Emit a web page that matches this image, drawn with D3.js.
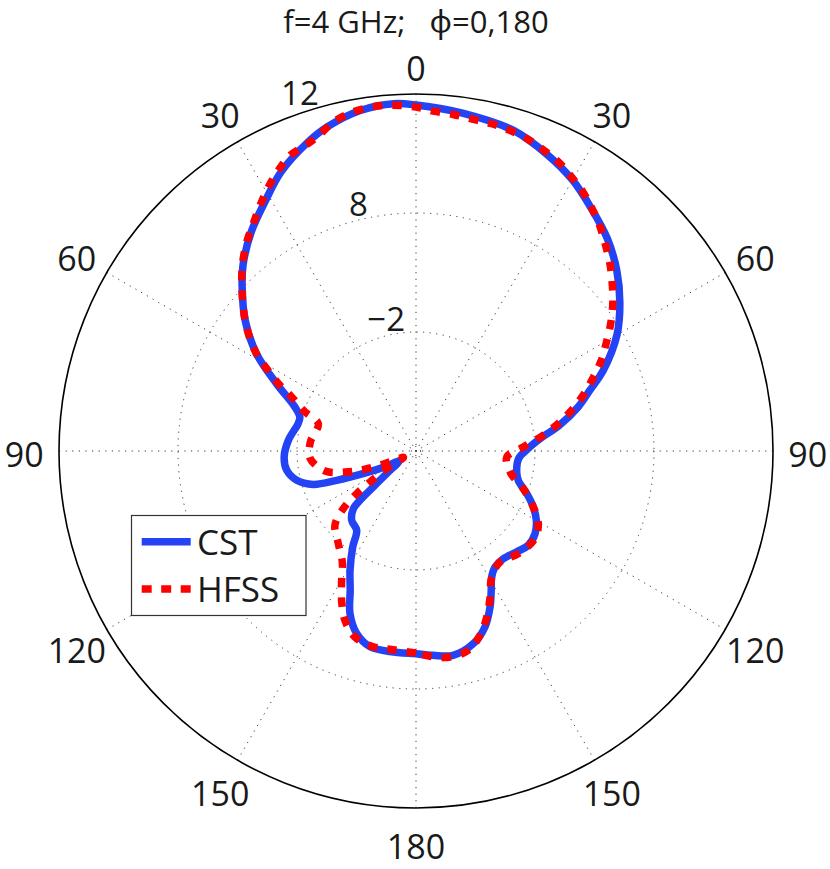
<!DOCTYPE html>
<html><head><meta charset="utf-8">
<script src="https://cdn.jsdelivr.net/npm/d3@7"></script>
<style>
body{margin:0;background:#fff}
text{font-family:"Open Sans","Noto Sans",sans-serif;fill:#1a1a1a}
</style>
</head><body><svg id="chart" width="830" height="869"></svg>
<script>
// ---------------- data ----------------
const titleText = "f=4 GHz;   \u03D5=0,180";
const angleTicks = [0, 30, 60, 90, 120, 150, 180, -150, -120, -90, -60, -30];
const angleTickLabels = ["0", "30", "60", "90", "120", "150", "180", "150", "120", "90", "60", "30"];
const ringValues = [-2, 8, 12];
const ringLabels = ["\u22122", "8", "12"];
const seriesNames = ["CST", "HFSS"];

const cstTheta = [-180,-173.6,-166.8,-162,-157.9,-154.7,-151,-146.6,-143.2,-137.1,-132.6,-131.4,-130.1,-127.6,-121,-117,-113.7,-110.3,-108,-103.8,-98.5,-92.6,-85.2,-76.9,-73.7,-70,-64.2,-58.6,-52.6,-46.7,-42.9,-37,-31,-25.8,-19.4,-15.4,-9.3,-3.7,0,8,17,24,30,36,42,48,54,60,66.7,70.8,74.8,80,84,88.8,94,100.8,106,111,115.5,120,124.8,130,135,141,145.7,149,152,154.6,158.6,163.4,169.7,175.2,180];
const cstGain = [5.03,5.0,4.9,4.13,2.75,0.94,-0.57,-2.34,-3.68,-4.06,-4.86,-5.7,-7.29,-8.89,-10.32,-9.06,-7.46,-4.9,-2.92,-1.68,-1.02,-0.91,-1.24,-1.83,-1.83,-1.16,1.03,3.71,6.07,8.03,8.54,9.21,9.82,10.42,10.99,11.29,11.6,11.7,11.63,11.46,11.26,10.89,10.52,10.05,9.61,9.08,8.47,7.5,5.14,3.46,2.12,0.18,-1.41,-2.59,-3.34,-3.39,-3.06,-2.03,-1.08,-0.32,0.18,0.32,-0.02,-0.35,-0.21,0.35,1.45,2.51,3.88,4.89,5.45,5.23,5.03];

const hfssTheta = [-180,-173,-167.2,-161.8,-157.2,-153.8,-150.4,-146.4,-140,-132.5,-128.4,-125.7,-124,-121,-117,-112,-109.4,-106.5,-102.4,-94.1,-85.1,-74.3,-70.6,-66.5,-63.9,-61.1,-59.2,-55.9,-52.3,-49,-45.6,-42.5,-39,-35.6,-32.4,-29.2,-26.1,-23.1,-20,-17.5,-14.1,-10.8,-7.3,-4,0,2.9,6.3,9.8,13,16.3,19.8,22.9,26.3,29.6,32.9,36.1,39.4,42.5,46.2,49.8,53.2,56.8,60.2,64.1,67.7,71.7,75.6,79.5,83.3,87.9,93.8,103,109.3,115.5,120.7,126.4,135.1,142.9,149,153.4,156.9,160.8,165.3,170.6,176.1,180];
const hfssGain = [4.97,4.81,4.83,4.45,3.43,2.14,0.66,-0.81,-1.84,-2.76,-4.2,-5.87,-7.38,-9.06,-10.82,-9.06,-7.29,-5.78,-4.18,-3.09,-3.09,-3.47,-2.11,-0.61,0.88,2.33,3.43,4.85,6.18,7.3,8.2,8.62,9.04,9.4,9.78,10.17,10.51,10.8,10.92,11.07,11.4,11.58,11.66,11.65,11.56,11.44,11.38,11.31,11.29,11.23,11.13,10.99,10.83,10.59,10.35,10.06,9.75,9.42,9.04,8.64,8.26,7.55,6.45,5.28,4.05,2.75,1.42,0.02,-1.37,-2.97,-4.35,-3.85,-2.45,-1.08,-0.05,0.42,0.18,-0.3,0.35,1.87,3.16,4.39,5.31,5.55,5.29,4.97];

// ---------------- layout ----------------
const cx = 416, cy = 451, R = 357;
const rOrigin = -12;
const rScale = d3.scaleLinear()
  .domain([rOrigin, ringValues[0], ringValues[1], ringValues[2]])
  .range([0, R / 3, 2 * R / 3, R]);
const rad = d => d * Math.PI / 180;

const svg = d3.select("#chart");
svg.append("rect").attr("width", 830).attr("height", 869).attr("fill", "#fff");

const g = svg.append("g").attr("transform", `translate(${cx},${cy})`);

const gridStyle = s => s.attr("fill", "none").attr("stroke", "#3a3a3a")
  .attr("stroke-width", 1).attr("stroke-dasharray", "1.2,5.4");

// spokes (full diameters, every 30 degrees)
const spokes = d3.range(0, 180, 30);
g.selectAll("line.spoke").data(spokes).join("line")
  .attr("class", "spoke")
  .attr("x1", d => -R * Math.sin(rad(d))).attr("y1", d => R * Math.cos(rad(d)))
  .attr("x2", d => R * Math.sin(rad(d))).attr("y2", d => -R * Math.cos(rad(d)))
  .call(gridStyle);

// dotted rings (inner ones)
g.selectAll("circle.ring").data(ringValues.slice(0, -1)).join("circle")
  .attr("class", "ring").attr("r", d => rScale(d)).call(gridStyle);
g.append("circle").attr("r", 4.5).call(gridStyle);

// outer solid ring
g.append("circle").attr("r", rScale(ringValues[ringValues.length - 1]))
  .attr("fill", "none").attr("stroke", "#000").attr("stroke-width", 1.6);

// ring labels
const ringLabelAngles = [-5.2, -11.6, -15.7];
g.selectAll("text.rlab").data(ringValues).join("text")
  .attr("class", "rlab")
  .attr("x", (d, i) => (rScale(d) + 2) * Math.sin(rad(ringLabelAngles[i])))
  .attr("y", (d, i) => -(rScale(d) + 2) * Math.cos(rad(ringLabelAngles[i])))
  .attr("text-anchor", "end")
  .attr("font-size", 33)
  .text((d, i) => ringLabels[i]);

// angle labels
const labR = 1.1 * R - 1;
g.selectAll("text.alab").data(angleTicks).join("text")
  .attr("class", "alab")
  .attr("x", d => labR * Math.sin(rad(d)))
  .attr("y", d => -(labR - (d === 0 ? 6 : 0)) * Math.cos(rad(d)) + 3)
  .attr("text-anchor", "middle")
  .attr("dominant-baseline", "central")
  .attr("font-size", 34)
  .text((d, i) => angleTickLabels[i]);

// series
const line = d3.lineRadial()
  .angle(d => rad(d[0]))
  .radius(d => rScale(d[1]))
  .curve(d3.curveCatmullRom.alpha(0.5));

const cstData = cstTheta.map((t, i) => [t, cstGain[i]]);
const hfssData = hfssTheta.map((t, i) => [t, hfssGain[i]]);

const blue = "#2343f5", red = "#ff0000";

g.append("path").datum(cstData).attr("d", line)
  .attr("fill", "none").attr("stroke", blue).attr("stroke-width", 7.5)
  .attr("stroke-linejoin", "round").attr("stroke-linecap", "round");

g.append("path").datum(hfssData).attr("d", line)
  .attr("fill", "none").attr("stroke", red).attr("stroke-width", 7.5)
  .attr("stroke-dasharray", "9.5,10").attr("stroke-linecap", "butt");

// title
svg.append("text").attr("x", 416).attr("y", 33)
  .attr("text-anchor", "middle").attr("font-size", 31)
  .attr("xml:space", "preserve").style("white-space", "pre")
  .text(titleText);

// legend
const lg = svg.append("g");
lg.append("rect").attr("x", 131.5).attr("y", 515.5).attr("width", 174.5).attr("height", 100)
  .attr("fill", "#fff").attr("stroke", "#333").attr("stroke-width", 1.2);
const legendItems = [
  {name: seriesNames[0], color: blue, dash: null, y: 541.7},
  {name: seriesNames[1], color: red, dash: "10,9.5", y: 589}
];
legendItems.forEach(it => {
  lg.append("line").attr("x1", 141.7).attr("x2", 190.7).attr("y1", it.y).attr("y2", it.y)
    .attr("stroke", it.color).attr("stroke-width", it.dash ? 7.7 : 7.5)
    .attr("stroke-dasharray", it.dash);
  lg.append("text").attr("x", 197).attr("y", it.y + 13).attr("font-size", 35).text(it.name);
});
</script>
</body></html>
